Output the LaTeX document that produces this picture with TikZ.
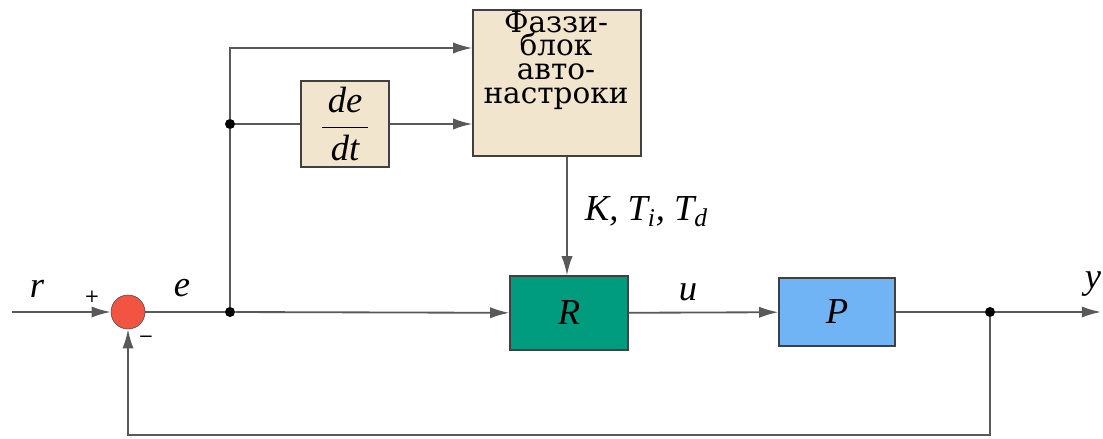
\documentclass[tikz,border=0pt]{standalone}
\usepackage{fontspec}
\setmainfont{DejaVu Serif}
\newfontfamily\lblfont{Liberation Serif}
\usetikzlibrary{arrows.meta}
\definecolor{fuzzyfill}{RGB}{242,229,206}
\definecolor{regfill}{RGB}{0,156,128}
\definecolor{plantfill}{RGB}{112,180,245}
\definecolor{sumfill}{RGB}{242,84,66}
\tikzset{
  blk/.style = {draw = black!75, line width = 0.9pt, inner sep = 2pt},
  wire/.style = {draw = black!65, line width = 1.3pt},
  arr/.style = {wire, -{Latex[length = 4.8mm, width = 2.8mm]}},
  lbl/.style = {font = \fontsize{26}{26}\lblfont\itshape},
  sgn/.style = {font = \fontsize{13}{13}\selectfont},
  dot/.style = {circle, fill = black, inner sep = 0pt, minimum size = 2.5mm}
}

\begin{document}
\begin{tikzpicture}[x = 0.025cm, y = -0.025cm]
  \useasboundingbox (0, 0) rectangle (1103, 439);

  \coordinate (in) at (12, 312);
  \coordinate (top) at (230, 48);
  \coordinate (out) at (1101, 312);
  \coordinate (bot) at (990, 435);

  % blocks
  \node[circle, draw = black!70, fill = sumfill, minimum size = 0.85cm,
    inner sep = 0pt] (sum) at (128, 312) {};
  \node[blk, fill = fuzzyfill, minimum width = 4.2cm, minimum height = 3.65cm]
    (fuzzy) at (557, 83) {};
  \node[align = center, font = \fontsize{21}{16.8}\selectfont] (fuzzytxt)
    at (556, 60) {Фаззи-\\блок\\авто-\\настроки};
  \node[blk, fill = fuzzyfill, minimum width = 2.2cm, minimum height = 2.15cm,
    font = \fontsize{26}{26}\lblfont] (deriv) at (345, 124)
    {$\displaystyle\frac{\,\textit{de}\,}{\textit{dt}}$};
  \node[blk, fill = regfill, minimum width = 2.95cm, minimum height = 1.85cm,
    lbl] (R) at (569, 313) {R};
  \node[blk, fill = plantfill, minimum width = 2.9cm, minimum height = 1.7cm,
    lbl] (P) at (837, 312) {P};

  % branch points
  \node[dot] (j1) at (230, 312) {};
  \node[dot] (j2) at (230, 124) {};
  \node[dot] (j3) at (990, 312) {};

  % signals
  \draw[arr] (in) -- (sum);
  \draw[wire] (sum) -- (j1);
  \draw[arr] (j1) -- (R);
  \draw[wire] (j1) -- (j2);
  \draw[arr] (j2) -- (top) -- (top -| fuzzy.west);
  \draw[wire] (j2) -- (deriv);
  \draw[arr] (deriv) -- (deriv -| fuzzy.west);
  \draw[arr] (fuzzy.south -| 567, 0) -- (R.north -| 567, 0);
  \draw[arr] (R) -- (P);
  \draw[wire] (P) -- (j3);
  \draw[arr] (j3) -- (out);
  \draw[arr] (j3) -- (bot) -| (sum);

  % labels
  \node[lbl] (rlbl) at (37, 289) {r};
  \node[lbl] (elbl) at (182, 288) {e};
  \node[lbl] (ulbl) at (688, 292) {u};
  \node[lbl] (ylbl) at (1093, 284) {y};
  \node[lbl, anchor = west] (klbl) at (580, 212)
    {K, T\textsubscript{\itshape i}, T\textsubscript{\itshape d}};
  \node[sgn] (plus) at (92, 297) {+};
  \node[sgn] (minus) at (146, 339) {−};
\end{tikzpicture}
\end{document}
